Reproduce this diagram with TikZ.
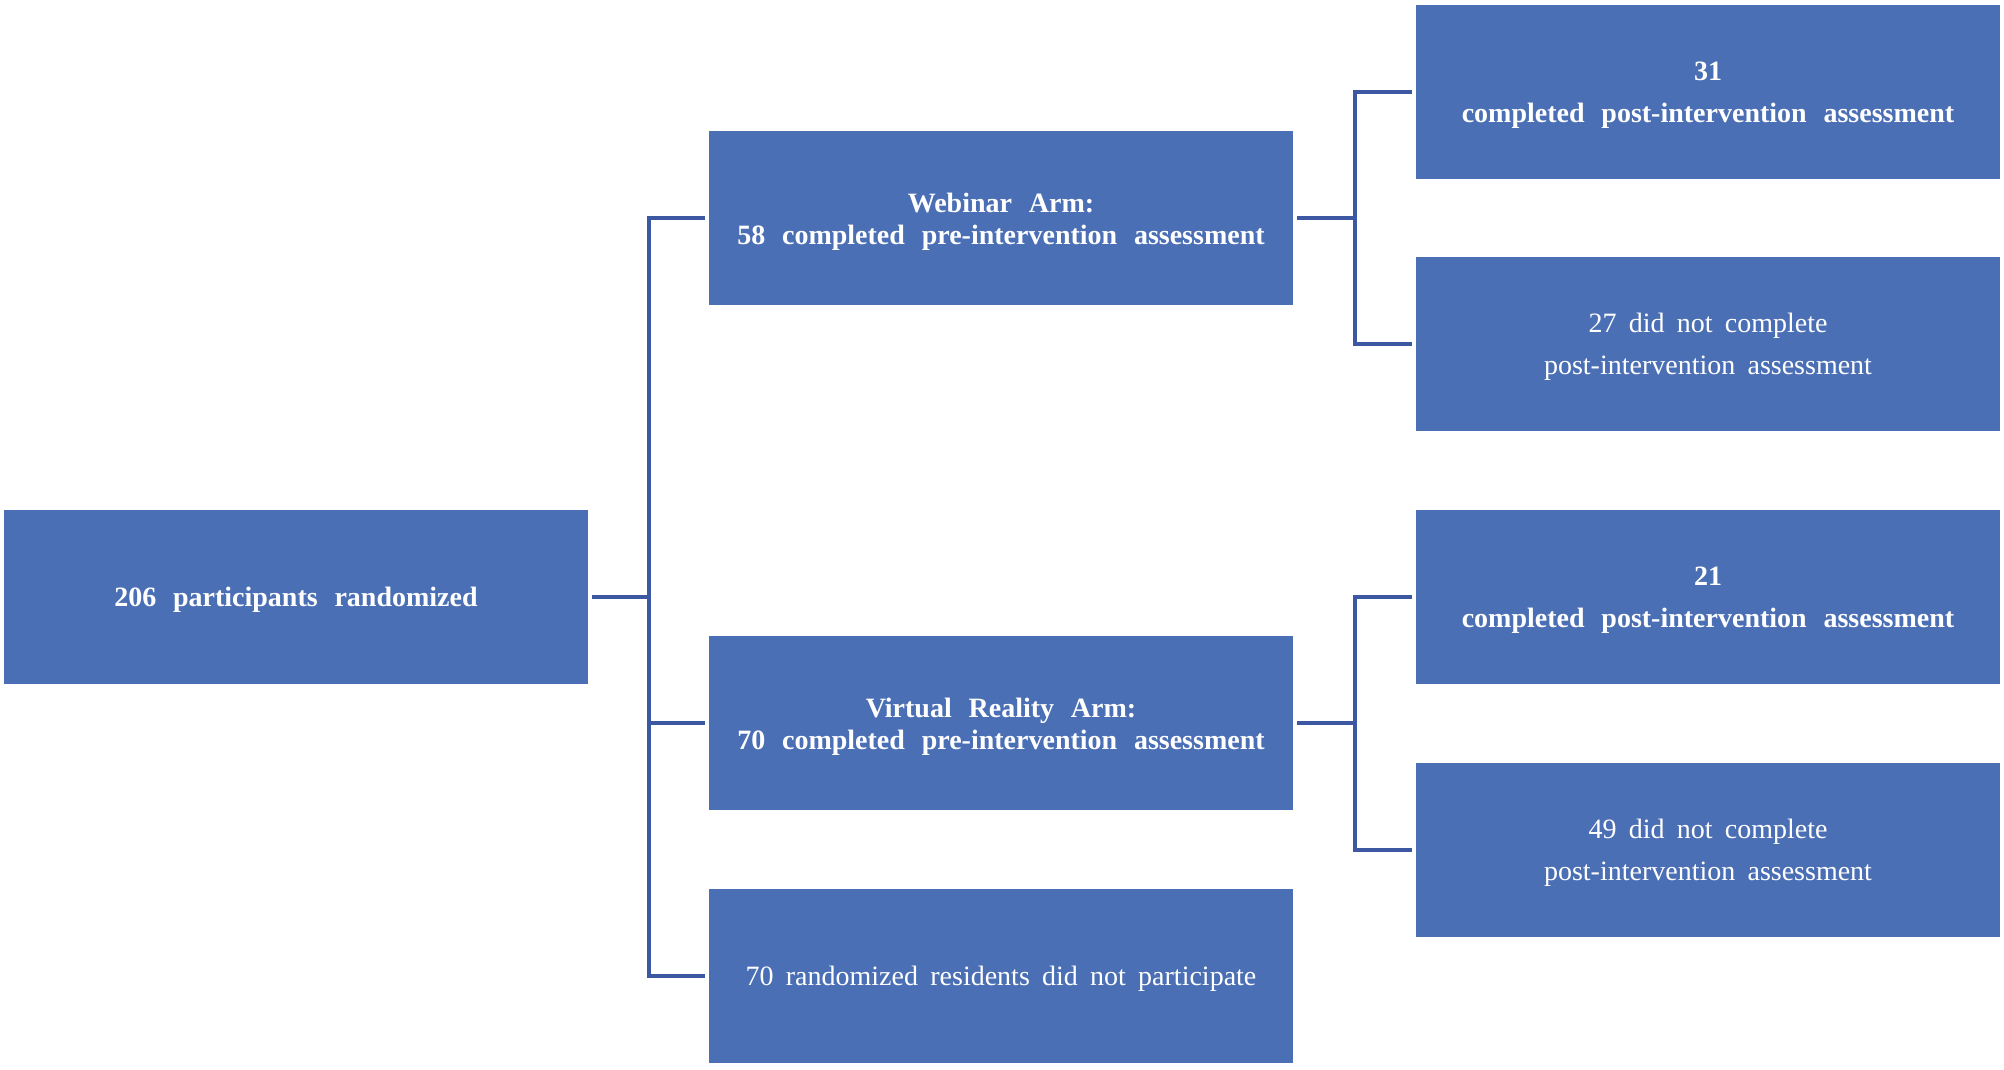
\documentclass[tikz,border=0pt]{standalone}
\usepackage{fontspec}
\setmainfont{Liberation Serif}[WordSpace=1.75]
\newfontfamily\boldf{Liberation Serif}[WordSpace=2.4]
\definecolor{boxblue}{HTML}{4B6FB5}
\definecolor{lineblue}{HTML}{3D58A3}
\newcommand{\tx}[2][-1pt]{\raisebox{#1}[\height][\depth]{\begin{tabular}{@{}c@{}}#2\end{tabular}}}
\begin{document}
\begin{tikzpicture}[x=1pt,y=-1pt,
  box/.style={fill=boxblue, minimum width=584pt, minimum height=174pt, inner sep=0pt, outer sep=4pt,
    text=white, align=center, font=\fontsize{28}{42}\selectfont},
  bbox/.style={box, font=\fontsize{28}{42}\selectfont\boldf\bfseries},
  tbox/.style={box, font=\fontsize{28}{32}\selectfont\boldf\bfseries},
  conn/.style={draw=lineblue, line width=4pt}]
\useasboundingbox (0,0) rectangle (2004,1069);
\node[bbox] (L) at (296,597) {\tx{206 participants randomized}};
\node[tbox] (W) at (1001,218) {\tx[-4pt]{Webinar Arm:\\58 completed pre-intervention assessment}};
\node[tbox] (V) at (1001,723) {\tx[-4pt]{Virtual Reality Arm:\\70 completed pre-intervention assessment}};
\node[box] (N) at (1001,976) {\tx{70 randomized residents did not participate}};
\node[bbox] (R1) at (1708,92) {\tx{31\\completed post-intervention assessment}};
\node[box] (R2) at (1708,344) {\tx{27 did not complete\\post-intervention assessment}};
\node[bbox] (R3) at (1708,597) {\tx{21\\completed post-intervention assessment}};
\node[box] (R4) at (1708,850) {\tx{49 did not complete\\post-intervention assessment}};
\coordinate (j1) at (649,597);
\coordinate (j2) at (1355,218);
\coordinate (j3) at (1355,723);
\draw[conn] (L.east) -- (j1);
\draw[conn] (W.west) -- (W.west -| j1) -- (N.west -| j1) -- (N.west);
\draw[conn] (V.west) -- (V.west -| j1);
\draw[conn] (W.east) -- (j2);
\draw[conn] (R1.west) -- (R1.west -| j2) -- (R2.west -| j2) -- (R2.west);
\draw[conn] (V.east) -- (j3);
\draw[conn] (R3.west) -- (R3.west -| j3) -- (R4.west -| j3) -- (R4.west);
\end{tikzpicture}
\end{document}
